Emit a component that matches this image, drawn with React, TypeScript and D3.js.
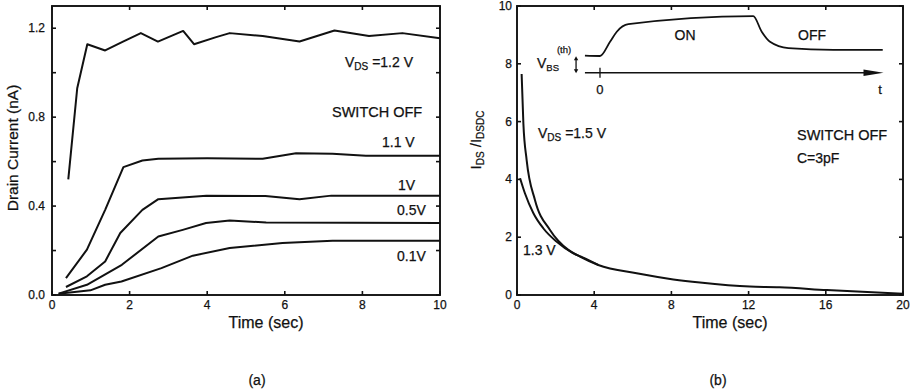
import React from "react";
import * as d3 from "d3";

// ---------- Panel (a): drain current vs time ----------
const tA12 = [0.42, 0.65, 0.91, 1.37, 1.83, 2.29, 2.73, 3.38, 3.66, 4.23, 4.58, 5.43, 6.38, 7.28, 8.17, 9.03, 10];
const iA12 = [0.52, 0.93, 1.128, 1.10, 1.14, 1.178, 1.14, 1.188, 1.128, 1.16, 1.178, 1.165, 1.14, 1.19, 1.165, 1.178, 1.155];
const tA11 = [0.36, 0.9, 1.37, 1.84, 2.33, 2.74, 4.0, 5.43, 6.29, 7.23, 8.09, 10];
const iA11 = [0.076, 0.204, 0.383, 0.575, 0.605, 0.613, 0.615, 0.613, 0.638, 0.635, 0.626, 0.626];
const tA10 = [0.36, 0.9, 1.37, 1.76, 2.33, 2.74, 3.98, 5.5, 6.38, 7.2, 10];
const iA10 = [0.036, 0.084, 0.151, 0.279, 0.383, 0.431, 0.446, 0.445, 0.431, 0.447, 0.447];
const tA05 = [0.17, 0.9, 1.8, 2.74, 3.37, 3.97, 4.58, 5.52, 10];
const iA05 = [0.006, 0.046, 0.136, 0.263, 0.293, 0.324, 0.335, 0.326, 0.324];
const tA01 = [0.17, 0.99, 1.37, 1.79, 2.82, 3.63, 4.58, 5.94, 7.23, 10];
const iA01 = [0.006, 0.021, 0.046, 0.061, 0.121, 0.177, 0.211, 0.234, 0.244, 0.244];

const xTicksA = [0, 2, 4, 6, 8, 10];
const yTicksA = [0, 0.2, 0.4, 0.6, 0.8, 1.0, 1.2];
const yLabelsA = [0, 0.4, 0.8, 1.2];

// ---------- Panel (b): normalized current vs time ----------
const tB15 = [0.24, 0.33, 0.5, 0.93, 1.71, 2.66, 3.26, 4.21, 6.2, 8.1, 9.48, 12.07, 13.6, 16.05, 20];
const rB15 = [7.65, 5.94, 4.67, 3.29, 2.25, 1.56, 1.33, 1.04, 0.75, 0.54, 0.43, 0.29, 0.27, 0.17, 0.04];
const tB13 = [0.16, 0.41, 0.85, 1.36, 2.06, 2.92, 3.4, 4.21];
const rB13 = [4.04, 3.52, 2.83, 2.31, 1.84, 1.44, 1.3, 1.04];

const xTicksB = [0, 4, 8, 12, 16, 20];
const yTicksB = [0, 2, 4, 6, 8, 10];

// inset schematic (in panel b data units)
const insetT = [3.52, 4.30, 4.82, 5.17, 5.77, 12.24, 12.68, 13.11, 14.06, 16.39, 18.95];
const insetV = [8.28, 8.27, 8.76, 9.11, 9.37, 9.65, 9.11, 8.76, 8.54, 8.48, 8.48];
const insetAxisT = [3.52, 18.99];
const insetAxisV = 7.69;
const insetZeroT = 4.30;
const insetArrowT = 3.06;
const insetArrowV = [7.67, 8.26];

const FONT = "'Liberation Sans', Arial, Helvetica, sans-serif";
const INK = "#111";

const xA = d3.scaleLinear().domain([0, 10]).range([52, 440]);
const yA = d3.scaleLinear().domain([0, 1.3]).range([295, 6]);
const xB = d3.scaleLinear().domain([0, 20]).range([517, 903]);
const yB = d3.scaleLinear().domain([0, 10]).range([295, 6]);

function mkLine(xs: d3.ScaleLinear<number, number>, ys: d3.ScaleLinear<number, number>, t: number[], v: number[], smooth = false) {
  const pts = t.map((d, i) => [d, v[i]] as [number, number]);
  return (
    d3
      .line<[number, number]>()
      .x((d) => xs(d[0]))
      .y((d) => ys(d[1]))
      .curve(smooth ? d3.curveMonotoneX : d3.curveLinear)(pts) || ""
  );
}

function Frame({ xs, ys, xt, yt, tick }: any) {
  const [x0, x1] = xs.range();
  const [y0, y1] = ys.range();
  return (
    <g stroke={INK} strokeWidth={1.6} fill="none">
      <rect x={x0} y={y1} width={x1 - x0} height={y0 - y1} strokeWidth={1.9} />
      {xt.map((t: number) => (
        <g key={"x" + t}>
          <line x1={xs(t)} x2={xs(t)} y1={y0} y2={y0 - tick} />
          <line x1={xs(t)} x2={xs(t)} y1={y1} y2={y1 + tick} />
        </g>
      ))}
      {yt.map((t: number) => (
        <g key={"y" + t}>
          <line x1={x0} x2={x0 + tick} y1={ys(t)} y2={ys(t)} />
          <line x1={x1} x2={x1 - tick} y1={ys(t)} y2={ys(t)} />
        </g>
      ))}
    </g>
  );
}

export default function App() {
  const fmtA = d3.format(".1f");
  const curve = { fill: "none", stroke: INK, strokeWidth: 2, strokeLinejoin: "round" as const };
  return (
    <svg width={921} height={392} style={{ position: "absolute", left: 0, top: 0, background: "#fff" }} fontFamily={FONT} fill={INK}>
      <rect x={0} y={0} width={921} height={392} fill="#fff" />
      {/* ===== Panel (a) ===== */}
      <Frame xs={xA} ys={yA} xt={xTicksA} yt={yTicksA} tick={4} />
      <path d={mkLine(xA, yA, tA12, iA12)} {...curve} />
      <path d={mkLine(xA, yA, tA11, iA11)} {...curve} />
      <path d={mkLine(xA, yA, tA10, iA10)} {...curve} />
      <path d={mkLine(xA, yA, tA05, iA05)} {...curve} />
      <path d={mkLine(xA, yA, tA01, iA01)} {...curve} />
      <g stroke={INK} strokeWidth={0.25}>
        {yLabelsA.map((t) => (
          <text key={t} x={45} y={yA(t) + 4} fontSize={12} textAnchor="end">{fmtA(t)}</text>
        ))}
        {xTicksA.map((t) => (
          <text key={t} x={xA(t)} y={309} fontSize={12} textAnchor="middle">{t}</text>
        ))}
        <text x={266} y={328} fontSize={16} textAnchor="middle">Time (sec)</text>
        <text transform="translate(18,148) rotate(-90)" fontSize={15.5} textAnchor="middle">Drain Current (nA)</text>
        <text x={345} y={67} fontSize={14}>
          V<tspan fontSize={10} dy={3}>DS</tspan><tspan dy={-3}> =1.2 V</tspan>
        </text>
        <text x={332} y={117} fontSize={14.5}>SWITCH OFF</text>
        <text x={382} y={147} fontSize={14}>1.1 V</text>
        <text x={398} y={190} fontSize={14}>1V</text>
        <text x={397} y={215} fontSize={14}>0.5V</text>
        <text x={397} y={261} fontSize={14}>0.1V</text>
        <text x={257} y={385} fontSize={14} textAnchor="middle">(a)</text>
      </g>

      {/* ===== Panel (b) ===== */}
      <Frame xs={xB} ys={yB} xt={xTicksB} yt={yTicksB} tick={4} />
      <path d={mkLine(xB, yB, tB15, rB15, true)} {...curve} />
      <path d={mkLine(xB, yB, tB13, rB13, true)} {...curve} />
      <g stroke={INK} strokeWidth={0.25}>
        {yTicksB.map((t) => (
          <text key={t} x={512} y={yB(t) + 4} fontSize={12} textAnchor="end">{t}</text>
        ))}
        {xTicksB.map((t) => (
          <text key={t} x={xB(t)} y={309} fontSize={12} textAnchor="middle">{t}</text>
        ))}
        <text x={730} y={328} fontSize={16} textAnchor="middle">Time (sec)</text>
        <text transform="translate(481,140) rotate(-90)" fontSize={15} textAnchor="middle">
          I<tspan fontSize={10} dy={3}>DS</tspan><tspan dy={-3}> /I</tspan><tspan fontSize={10} dy={3}>DSDC</tspan>
        </text>
        <text x={538} y={138} fontSize={14}>
          V<tspan fontSize={10} dy={3}>DS</tspan><tspan dy={-3}> =1.5 V</tspan>
        </text>
        <text x={797} y={140} fontSize={14.5}>SWITCH OFF</text>
        <text x={797} y={163} fontSize={14}>C=3pF</text>
        <text x={523} y={255} fontSize={14}>1.3 V</text>
        <text x={718} y={385} fontSize={14} textAnchor="middle">(b)</text>
        <text x={xB(insetZeroT)} y={94} fontSize={13} textAnchor="middle">0</text>
        <text x={880} y={94} fontSize={13} textAnchor="middle">t</text>
        <text x={685} y={40} fontSize={14} textAnchor="middle">ON</text>
        <text x={812} y={40} fontSize={14} textAnchor="middle">OFF</text>
        <text x={537} y={68} fontSize={14}>
          V<tspan fontSize={9.5} dy={3}>BS</tspan>
        </text>
        <text x={564} y={53} fontSize={9.5} textAnchor="middle">(th)</text>
      </g>

      {/* inset */}
      <path d={mkLine(xB, yB, insetT, insetV, true)} {...curve} strokeWidth={1.8} />
      <line x1={xB(insetAxisT[0])} x2={xB(insetAxisT[1]) - 14} y1={yB(insetAxisV)} y2={yB(insetAxisV)} stroke={INK} strokeWidth={1.6} />
      <path
        d={`M${xB(insetAxisT[1])},${yB(insetAxisV)} L${xB(insetAxisT[1]) - 20},${yB(insetAxisV) - 3.2} L${xB(insetAxisT[1]) - 20},${yB(insetAxisV) + 3.2} Z`}
        fill={INK}
      />
      <line x1={xB(insetZeroT)} x2={xB(insetZeroT)} y1={yB(insetAxisV) - 5} y2={yB(insetAxisV) + 5} stroke={INK} strokeWidth={1.3} />
      <line x1={xB(insetArrowT)} x2={xB(insetArrowT)} y1={yB(insetArrowV[1]) + 2} y2={yB(insetArrowV[0]) - 2} stroke={INK} strokeWidth={1.3} />
      <path d={`M${xB(insetArrowT)},${yB(insetArrowV[1])} l-2.2,4 l4.4,0 Z`} fill={INK} />
      <path d={`M${xB(insetArrowT)},${yB(insetArrowV[0])} l-2.2,-4 l4.4,0 Z`} fill={INK} />
    </svg>
  );
}
